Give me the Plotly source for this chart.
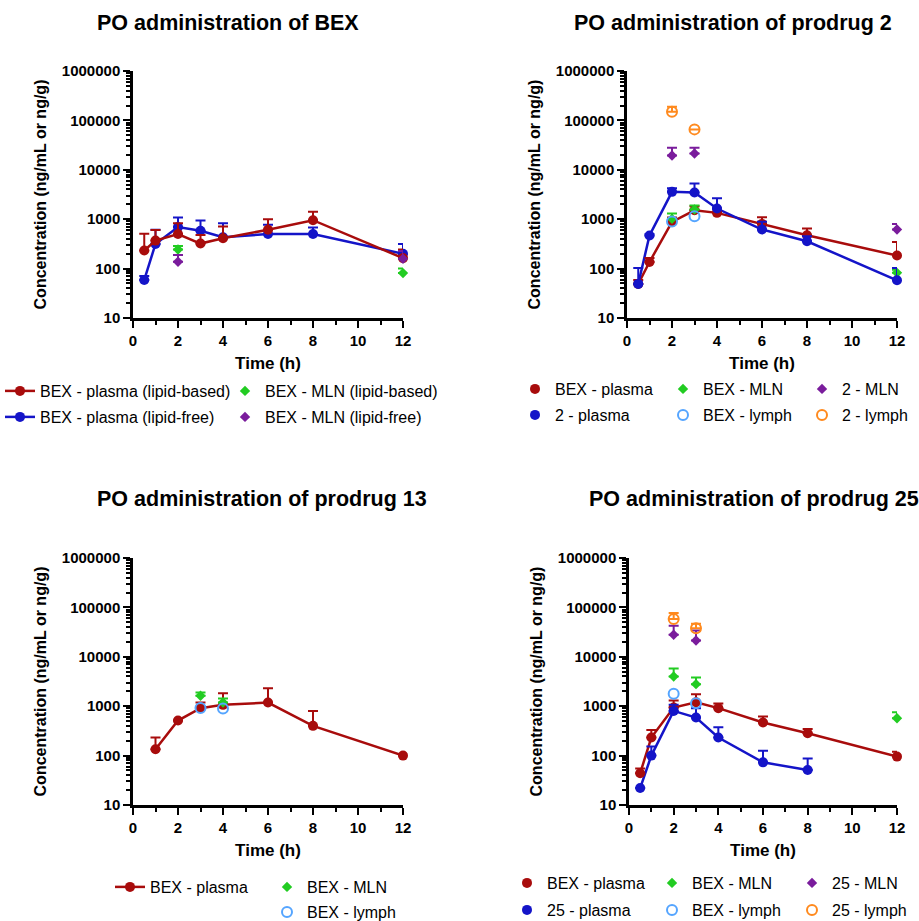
import plotly.graph_objects as go

# ---------------- data ----------------
# Panel A: PO administration of BEX
t_a = [0.5, 1, 2, 3, 4, 6, 8, 12]
a_plasma_lipid = [233, 369, 501, 321, 411, 612, 955, 163]
a_plasma_lipid_sd = [276, 234, 331, 160, 302, 388, 468, 81]
a_plasma_free = [59, 316, 692, 584, 430, 501, 501, 200]
a_plasma_free_sd = [12, 296, 388, 356, 402, 269, 180, 116]
t_a_mln = [2, 12]
a_mln_lipid = [244, 81]
a_mln_lipid_sd = [44, 19]
a_mln_free = [138, 158]
a_mln_free_sd = [50, 68]

# Panel B: PO administration of prodrug 2
t_b = [0.5, 1, 2, 3, 4, 6, 8, 12]
b_bex_plasma = [49, 136, 883, 1514, 1343, 804, 474, 184]
b_bex_plasma_sd = [10, 28, 200, 306, 301, 292, 172, 163]
b_pro_plasma = [49, 467, 3580, 3470, 1645, 617, 358, 58]
b_pro_plasma_sd = [54, 30, 670, 1810, 1021, 266, 94, 45]
t_b_mln = [2, 3, 12]
b_bex_mln = [1016, 1571, 82]
b_bex_mln_sd = [287, 322, 13]
b_pro_mln = [19500, 21400, 617]
b_pro_mln_sd = [8400, 6500, 187]
t_b_lymph = [2, 3]
b_bex_lymph = [900, 1150]
b_pro_lymph = [150000, 65800]
b_pro_lymph_sd = [39000, 0]

# Panel C: PO administration of prodrug 13
t_c = [1, 2, 3, 4, 6, 8, 12]
c_bex_plasma = [134, 512, 910, 1064, 1186, 400, 100]
c_bex_plasma_sd = [98, 0, 276, 766, 1131, 403, 0]
t_c_tissue = [3, 4]
c_bex_mln = [1630, 1186]
c_bex_mln_sd = [263, 243]
c_bex_lymph = [920, 900]

# Panel D: PO administration of prodrug 25
t_d = [0.5, 1, 2, 3, 4, 6, 8, 12]
d_bex_plasma = [44, 232, 940, 1203, 913, 467, 284, 95.5]
d_bex_plasma_sd = [11, 99, 362, 547, 219, 150, 63, 24]
t_d_pro = [0.5, 1, 2, 3, 4, 6, 8]
d_pro_plasma = [22, 100, 803, 589, 232, 73, 51]
d_pro_plasma_sd = [0, 52, 262, 321, 143, 53, 36]
t_d_bex_mln = [2, 3, 12]
d_bex_mln = [4000, 2793, 571]
d_bex_mln_sd = [1810, 1007, 185]
t_d_lymph = [2, 3]
d_pro_mln = [27900, 21400]
d_pro_mln_sd = [14600, 12800]
d_bex_lymph = [1780, 1150]
d_pro_lymph = [58000, 38000]
d_pro_lymph_sd = [18700, 8700]

titles = ["PO administration of BEX", "PO administration of prodrug 2",
          "PO administration of prodrug 13", "PO administration of prodrug 25"]
y_tickvals = [10, 100, 1000, 10000, 100000, 1000000]
y_ticktext = ["10", "100", "1000", "10000", "100000", "1000000"]
x_tickvals = [0, 2, 4, 6, 8, 10, 12]

# ---------------- style ----------------
RED = "#A80C0C"
BLUE = "#1414C8"
GREEN = "#22CC22"
PURPLE = "#7A1C9C"
LBLUE = "#55A5FF"
ORANGE = "#FF8A1E"
FONT = "Liberation Sans"
W, H = 919, 921

fig = go.Figure()


def err(sd, color):
    if sd is None:
        return None
    return dict(type="data", symmetric=False, array=sd, arrayminus=[0] * len(sd),
                thickness=2, width=5, color=color)


def add(x, y, sd, color, name, ax, legend, mode="markers", symbol="circle", size=10,
        showlegend=True, legendwidth=None):
    xa = "x" if ax == 1 else "x%d" % ax
    ya = "y" if ax == 1 else "y%d" % ax
    kw = {}
    if legendwidth is not None:
        kw["legendwidth"] = legendwidth
    mk = dict(color=color, size=size, symbol=symbol)
    if symbol.endswith("open"):
        mk["line"] = dict(color=color, width=2)
    fig.add_trace(go.Scatter(
        x=x, y=y, mode=mode, name=name, xaxis=xa, yaxis=ya,
        marker=mk, line=dict(color=color, width=2.5),
        error_y=err(sd, color), cliponaxis=False, showlegend=showlegend,
        legend=legend, **kw))


def add_line(x, y, color, ax):
    xa = "x" if ax == 1 else "x%d" % ax
    ya = "y" if ax == 1 else "y%d" % ax
    fig.add_trace(go.Scatter(x=x, y=y, mode="lines", xaxis=xa, yaxis=ya,
                             line=dict(color=color, width=2.5), showlegend=False,
                             hoverinfo="skip", cliponaxis=False))


# Panel A
add(t_a, a_plasma_free, a_plasma_free_sd, BLUE, "BEX - plasma (lipid-free)", 1, "legend2",
    mode="lines+markers", legendwidth=180)
add(t_a, a_plasma_lipid, a_plasma_lipid_sd, RED, "BEX - plasma (lipid-based)", 1, "legend",
    mode="lines+markers", legendwidth=180)
add(t_a_mln, a_mln_lipid, a_mln_lipid_sd, GREEN, "BEX - MLN (lipid-based)", 1, "legend",
    symbol="diamond", size=8)
add(t_a_mln, a_mln_free, a_mln_free_sd, PURPLE, "BEX - MLN (lipid-free)", 1, "legend2",
    symbol="diamond", size=8)

# Panel B
add_line(t_b, b_bex_plasma, RED, 2)
add_line(t_b, b_pro_plasma, BLUE, 2)
add(t_b, b_bex_plasma, b_bex_plasma_sd, RED, "BEX - plasma", 2, "legend3", legendwidth=103)
add(t_b_mln, b_bex_mln, b_bex_mln_sd, GREEN, "BEX - MLN", 2, "legend3", symbol="diamond",
    size=8, legendwidth=94)
add(t_b_mln, b_pro_mln, b_pro_mln_sd, PURPLE, "2 - MLN", 2, "legend3", symbol="diamond", size=8)
add(t_b, b_pro_plasma, b_pro_plasma_sd, BLUE, "2 - plasma", 2, "legend4", legendwidth=103)
add(t_b_lymph, b_bex_lymph, None, LBLUE, "BEX - lymph", 2, "legend4", symbol="circle-open",
    size=10, legendwidth=94)
add(t_b_lymph, b_pro_lymph, b_pro_lymph_sd, ORANGE, "2 - lymph", 2, "legend4",
    symbol="circle-open", size=10)

# Panel C
add(t_c, c_bex_plasma, c_bex_plasma_sd, RED, "BEX - plasma", 3, "legend5",
    mode="lines+markers", legendwidth=112)
add(t_c_tissue, c_bex_mln, c_bex_mln_sd, GREEN, "BEX - MLN", 3, "legend5", symbol="diamond",
    size=8)
add(t_c_tissue, c_bex_lymph, None, LBLUE, "BEX - lymph", 3, "legend6", symbol="circle-open",
    size=10)

# Panel D
add_line(t_d, d_bex_plasma, RED, 4)
add_line(t_d_pro, d_pro_plasma, BLUE, 4)
add(t_d, d_bex_plasma, d_bex_plasma_sd, RED, "BEX - plasma", 4, "legend7", legendwidth=100)
add(t_d_bex_mln, d_bex_mln, d_bex_mln_sd, GREEN, "BEX - MLN", 4, "legend7", symbol="diamond",
    size=8, legendwidth=95)
add(t_d_lymph, d_pro_mln, d_pro_mln_sd, PURPLE, "25 - MLN", 4, "legend7", symbol="diamond",
    size=8)
add(t_d_pro, d_pro_plasma, d_pro_plasma_sd, BLUE, "25 - plasma", 4, "legend8", legendwidth=100)
add(t_d_lymph, d_bex_lymph, None, LBLUE, "BEX - lymph", 4, "legend8", symbol="circle-open",
    size=10, legendwidth=95)
add(t_d_lymph, d_pro_lymph, d_pro_lymph_sd, ORANGE, "25 - lymph", 4, "legend8",
    symbol="circle-open", size=10)


# ---------------- axes ----------------
def px_x(p):
    return p / W


def px_y(p):
    return 1 - p / H


panels = {
    1: ((133, 403), (318, 71)),
    2: ((627, 897), (318, 71)),
    3: ((133, 403), (805, 558)),
    4: ((629, 897), (805, 558)),
}

minor_y = [m * 10 ** e for e in range(1, 6) for m in range(2, 10)]

layout = dict(width=W, height=H, margin=dict(l=0, r=0, t=0, b=0, autoexpand=False),
              paper_bgcolor="white", plot_bgcolor="white",
              font=dict(family=FONT, color="black"))

for k, ((x0, x1), (yb, yt)) in panels.items():
    xs = "xaxis" if k == 1 else "xaxis%d" % k
    ys = "yaxis" if k == 1 else "yaxis%d" % k
    layout[xs] = dict(
        domain=[px_x(x0), px_x(x1)], range=[0, 12], anchor="y" if k == 1 else "y%d" % k,
        automargin=False,
        tickvals=x_tickvals, ticks="outside", ticklen=7, tickwidth=2, tickcolor="black",
        showline=True, linewidth=2.5, linecolor="black", showgrid=False, zeroline=False,
        tickfont=dict(family=FONT, size=15, color="black", weight="bold"),
        minor=dict(dtick=1, tick0=0, ticks="outside", ticklen=4, tickwidth=1.5,
                   tickcolor="black", showgrid=False),
        title=dict(text="<b>Time (h)</b>", font=dict(family=FONT, size=17, color="black"),
                   standoff=10),
    )
    layout[ys] = dict(
        domain=[px_y(yb), px_y(yt)], type="log", range=[1, 6],
        anchor="x" if k == 1 else "x%d" % k, automargin=False,
        tickvals=y_tickvals, ticktext=y_ticktext, ticks="outside", ticklen=7, tickwidth=2,
        tickcolor="black", showline=True, linewidth=2.5, linecolor="black",
        showgrid=False, zeroline=False,
        tickfont=dict(family=FONT, size=15, color="black", weight="bold"),
        minor=dict(tickvals=minor_y, ticks="outside", ticklen=4, tickwidth=1.5,
                   tickcolor="black", showgrid=False),
        title=dict(text="<b>Concentration (ng/mL or ng/g)</b>",
                   font=dict(family=FONT, size=16, color="black"), standoff=12),
    )

# ---------------- titles ----------------
title_pos = [(95, 23), (572, 23), (95, 499), (587, 499)]
annotations = []
for txt, (tx, ty) in zip(titles, title_pos):
    annotations.append(dict(text="<b>%s</b>" % txt, x=px_x(tx), y=px_y(ty), xref="paper",
                            yref="paper", xanchor="left", yanchor="middle", showarrow=False,
                            font=dict(family=FONT, size=21.5, color="black")))
layout["annotations"] = annotations

# ---------------- legends ----------------
leg_pos = {
    "legend": (0, 391), "legend2": (0, 417),
    "legend3": (515, 389), "legend4": (515, 415),
    "legend5": (110, 887), "legend6": (267, 912),
    "legend7": (507, 883), "legend8": (507, 910),
}
for name, (lx, ly) in leg_pos.items():
    layout[name] = dict(orientation="h", x=px_x(lx), y=px_y(ly), xanchor="left",
                        yanchor="middle", bgcolor="rgba(0,0,0,0)",
                        font=dict(family=FONT, size=16, color="black"),
                        itemclick=False, itemdoubleclick=False, traceorder="normal")

fig.update_layout(**layout)
fig.write_html("out.html", post_script="document.body.style.margin='0px';",
               config={"displayModeBar": False})
